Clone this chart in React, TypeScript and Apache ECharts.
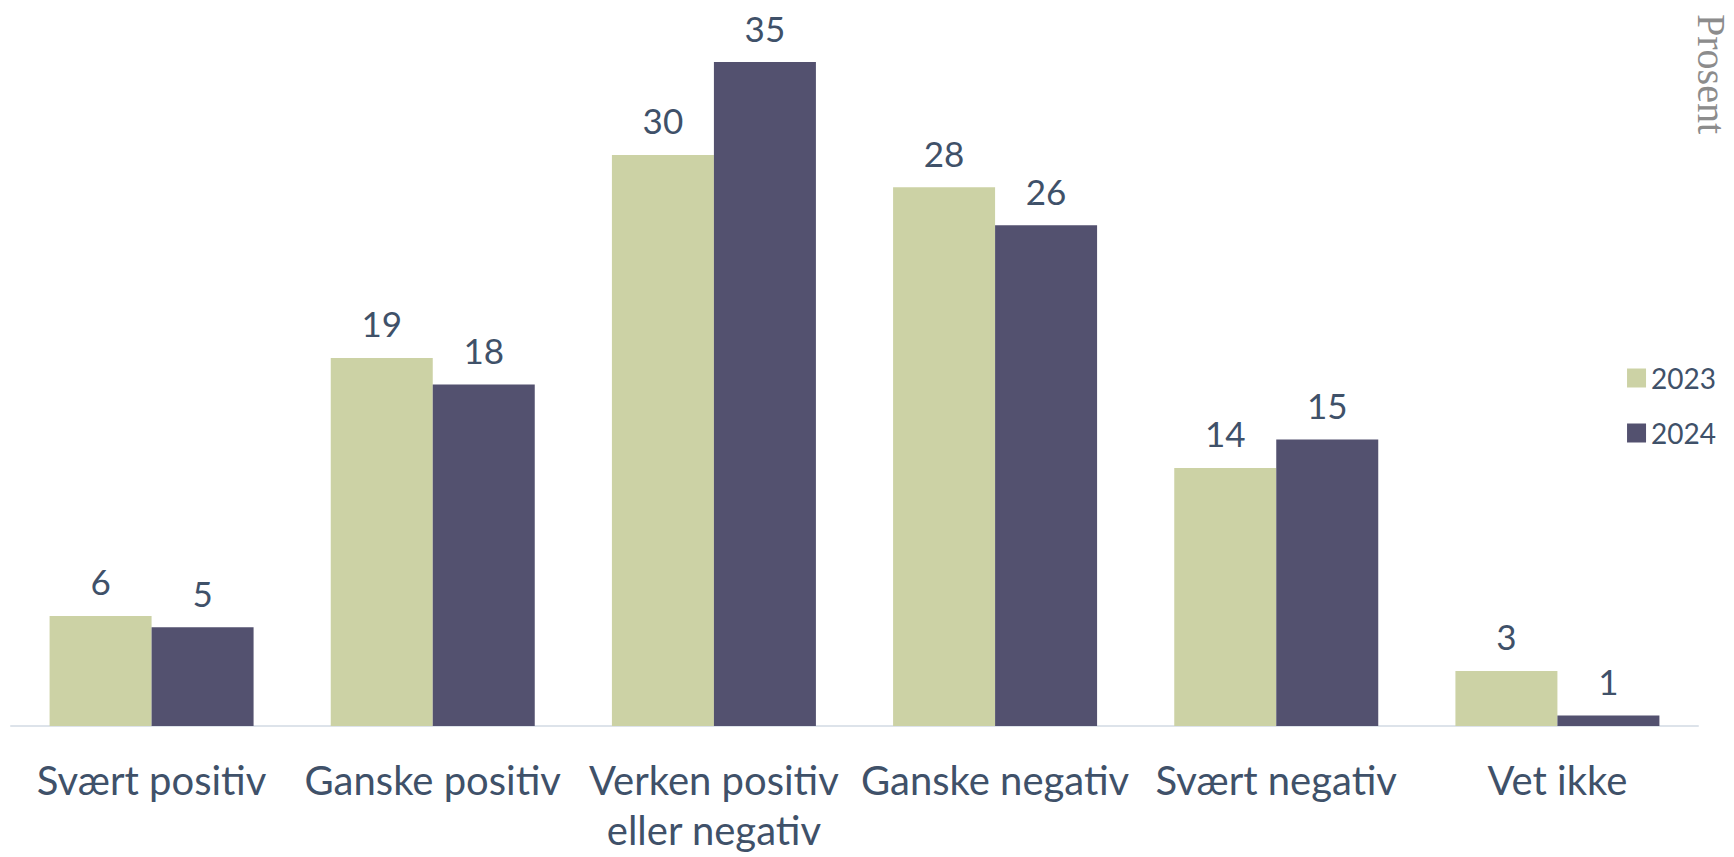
import React, { useEffect, useRef } from "react";
import * as echarts from "echarts";

const categories = [
  "Svært positiv",
  "Ganske positiv",
  "Verken positiv\neller negativ",
  "Ganske negativ",
  "Svært negativ",
  "Vet ikke",
];
const seriesNames = ["2023", "2024"];
const values2023 = [5.8, 19.4, 30.1, 28.4, 13.6, 2.9];
const values2024 = [5.2, 18.0, 35.0, 26.4, 15.1, 0.55];
const yMin = 0;
const yMax = 35;
const unitLabel = "Prosent";

const GREEN = "#CCD2A5";
const PURPLE = "#53516F";
const TEXT = "#3F5169";
const FONT = "Lato, 'Noto Sans', sans-serif";

export default function App() {
  const ref = useRef<HTMLDivElement>(null);

  useEffect(() => {
    document.body.style.margin = "0";
    if (!ref.current) return;
    const chart = echarts.init(ref.current, undefined, { renderer: "svg" });
    const label = {
      show: true,
      position: "top" as const,
      distance: 17,
      color: TEXT,
      fontFamily: FONT,
      fontSize: 35,
      formatter: (p: any) => String(Math.round(p.value)),
    };
    chart.setOption({
      animation: false,
      backgroundColor: "#ffffff",
      textStyle: { fontFamily: FONT },
      grid: { left: 11, right: 36, top: 62, bottom: 131, containLabel: false },
      legend: {
        orient: "vertical",
        right: 13,
        top: 358,
        icon: "rect",
        itemWidth: 19,
        itemHeight: 19,
        itemGap: 25,
        textStyle: { color: TEXT, fontFamily: FONT, fontSize: 28, lineHeight: 30, padding: [0, 0, 0, 0] },
        data: seriesNames,
        selectedMode: false,
      },
      xAxis: {
        type: "category",
        data: categories,
        axisLine: { show: true, lineStyle: { color: "#DDE3EA", width: 2 } },
        axisTick: { show: false },
        axisLabel: {
          interval: 0,
          color: TEXT,
          fontFamily: FONT,
          fontSize: 40,
          lineHeight: 50,
          margin: 29,
        },
      },
      yAxis: {
        type: "value",
        min: yMin,
        max: yMax,
        show: false,
        splitLine: { show: false },
      },
      graphic: [
        {
          type: "text",
          x: 1711,
          y: 74,
          rotation: -Math.PI / 2,
          style: {
            text: unitLabel,
            fill: "#8C8C8C",
            font: "40px 'Liberation Serif', serif",
            align: "center",
            verticalAlign: "middle",
          },
        },
      ],
      series: [
        {
          name: seriesNames[0],
          type: "bar",
          data: values2023,
          barWidth: 102,
          barGap: "0%",
          itemStyle: { color: GREEN },
          label,
        },
        {
          name: seriesNames[1],
          type: "bar",
          data: values2024,
          barWidth: 102,
          barGap: "0%",
          itemStyle: { color: PURPLE },
          label,
        },
      ],
    });
    return () => chart.dispose();
  }, []);

  return <div ref={ref} style={{ width: 1734, height: 857 }} />;
}
